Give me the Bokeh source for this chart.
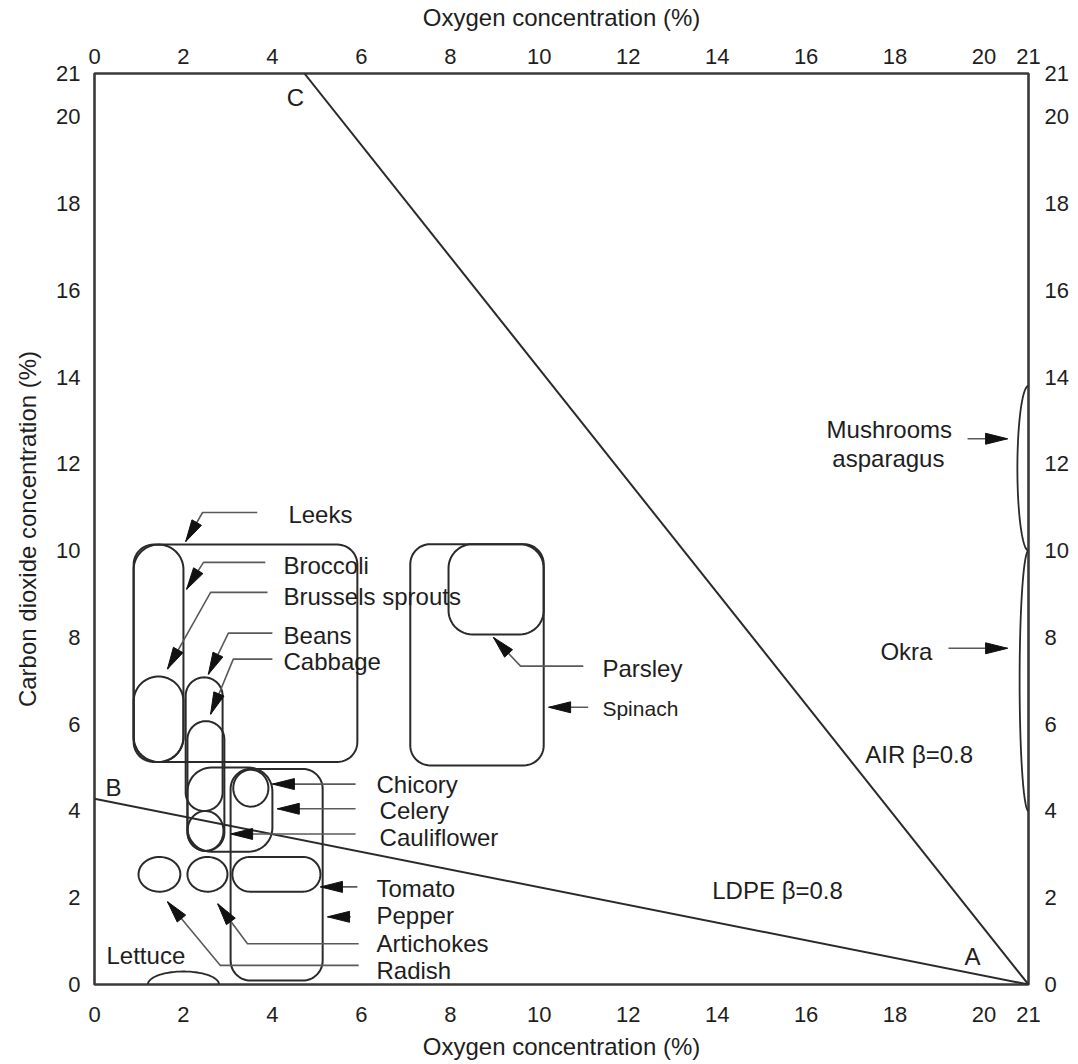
import numpy as np
from bokeh.plotting import figure
from bokeh.models import Range1d, LinearAxis, FixedTicker
from bokeh.embed import file_html
from bokeh.resources import INLINE
from bokeh.core.properties import value

# ---------------- data ----------------
o2_ticks = [0, 2, 4, 6, 8, 10, 12, 14, 16, 18, 20, 21]
co2_ticks = [0, 2, 4, 6, 8, 10, 12, 14, 16, 18, 20, 21]

# recommended atmosphere zones (O2 %, CO2 %)
zone_names = ["Leeks", "Broccoli", "Brussels sprouts", "Beans", "Cabbage",
              "Cauliflower", "Celery", "Chicory", "Pepper", "Tomato",
              "Radish", "Artichokes", "Spinach", "Parsley"]
zone_o2_lo = [0.88, 0.88, 0.88, 2.05, 2.09, 2.09, 2.09, 3.12, 3.06, 3.10, 0.99, 2.09, 7.10, 7.96]
zone_o2_hi = [5.91, 2.00, 2.00, 2.88, 2.92, 2.90, 4.00, 3.91, 5.13, 5.08, 1.93, 2.99, 10.10, 10.10]
zone_co2_lo = [5.13, 5.13, 5.13, 4.00, 3.08, 3.08, 3.06, 4.10, 0.09, 2.14, 2.14, 2.14, 5.05, 8.07]
zone_co2_hi = [10.14, 10.14, 7.10, 7.08, 6.07, 4.00, 5.00, 4.95, 4.97, 2.94, 2.94, 2.94, 10.15, 10.15]
zone_shape = ["box", "stadium", "stadium", "stadium", "stadium", "ellipse", "box",
              "ellipse", "box", "stadium", "ellipse", "ellipse", "box", "box"]

# zones sitting on the chart edge (half shapes)
edge_names = ["Lettuce", "Mushrooms asparagus", "Okra"]
edge_side = ["bottom", "right", "right"]
edge_lo = [1.2, 10.0, 4.0]
edge_hi = [2.8, 13.8, 10.0]
edge_depth = [0.30, 0.25, 0.20]

# package lines
ldpe_o2 = [0.0, 21.0]
ldpe_co2 = [4.28, 0.0]
air_o2 = [4.72, 21.0]
air_co2 = [21.0, 0.0]

# annotation texts
label_text = ["Leeks", "Broccoli", "Brussels sprouts", "Beans", "Cabbage", "Parsley",
              "Spinach", "Chicory", "Celery", "Cauliflower", "Tomato", "Pepper",
              "Artichokes", "Radish", "Lettuce", "Mushrooms", "asparagus", "Okra",
              "AIR β=0.8", "LDPE β=0.8", "A", "B", "C"]
label_x = [4.36, 4.25, 4.25, 4.25, 4.25, 11.42, 11.42, 6.34, 6.41, 6.41, 6.34, 6.34,
           6.34, 6.34, 0.27, 17.87, 17.85, 17.67, 17.33, 13.89, 19.74, 0.43, 4.52]
label_y = [10.83, 9.66, 8.95, 8.05, 7.45, 7.29, 6.37, 4.62, 4.02, 3.38, 2.21, 1.59,
           0.94, 0.32, 0.67, 12.79, 12.12, 7.68, 5.31, 2.16, 0.64, 4.55, 20.45]
label_align = ["left"] * 15 + ["center", "center"] + ["left"] * 3 + ["center"] * 3
label_size = ["24px"] * 6 + ["21px"] + ["24px"] * 16

# leader lines with arrows (last point is the arrow tip)
leader_x = [[3.66, 2.43, 2.05], [3.84, 2.45, 2.07], [3.89, 2.61, 1.64], [4.0, 3.01, 2.56],
            [4.0, 3.12, 2.61], [10.99, 9.58, 8.97], [11.1, 10.21], [5.87, 4.0],
            [5.87, 4.11], [5.87, 3.06], [5.91, 5.08], [5.76, 5.24],
            [5.94, 3.44, 2.77], [5.94, 2.83, 1.64], [19.63, 20.53], [19.2, 20.53]]
leader_y = [[10.88, 10.88, 10.21], [9.73, 9.73, 9.11], [9.04, 9.04, 7.27], [8.1, 8.1, 7.15],
            [7.5, 7.5, 6.23], [7.34, 7.34, 8.0], [6.39, 6.39], [4.62, 4.62],
            [4.05, 4.05], [3.47, 3.47], [2.25, 2.25], [1.56, 1.56],
            [0.94, 0.94, 1.86], [0.44, 0.44, 1.91], [12.58, 12.58], [7.75, 7.75]]

# ---------------- layout / style ----------------
W, H = 1074, 1062
ML, MR, MT, MB = 94, 46, 73, 76
PX_X = (W - ML - MR) / 21.0
PX_Y = (H - MT - MB) / 21.0
FONT = "Liberation Sans"
INK = "#2a2a2a"

p = figure(width=W, height=H, x_range=Range1d(0, 21), y_range=Range1d(0, 21),
           output_backend="svg", toolbar_location=None,
           min_border_left=ML, min_border_right=MR, min_border_top=MT, min_border_bottom=MB,
           x_axis_label="Oxygen concentration (%)",
           y_axis_label="Carbon dioxide concentration (%)")
p.xgrid.visible = False
p.ygrid.visible = False
p.outline_line_color = "#3a3a3a"
p.outline_line_width = 2.6
p.background_fill_color = "white"
p.border_fill_color = "white"

bottom_axis = p.below[0]
left_axis = p.left[0]
top_axis = LinearAxis(axis_label="Oxygen concentration (%)")
right_axis = LinearAxis()
p.add_layout(top_axis, "above")
p.add_layout(right_axis, "right")


def style_axis(ax, ticks, standoff, lab_standoff):
    ax.ticker = FixedTicker(ticks=ticks)
    ax.axis_line_color = None
    ax.major_tick_line_color = None
    ax.minor_tick_line_color = None
    ax.major_tick_out = 0
    ax.major_tick_in = 0
    ax.major_label_standoff = standoff
    ax.major_label_text_font = FONT
    ax.major_label_text_font_size = "22px"
    ax.major_label_text_color = "#1e1e1e"
    ax.axis_label_text_font = FONT
    ax.axis_label_text_font_size = "24px"
    ax.axis_label_text_font_style = "normal"
    ax.axis_label_text_color = "#1e1e1e"
    ax.axis_label_standoff = lab_standoff


style_axis(bottom_axis, o2_ticks, 22, 8)
style_axis(top_axis, o2_ticks, 10, 15)
style_axis(left_axis, co2_ticks, 14, 12)
style_axis(right_axis, co2_ticks, 16, 0)


def rounded_rect(x0, x1, y0, y1, r_px, n=14):
    rx = min(r_px / PX_X, (x1 - x0) / 2)
    ry = min(r_px / PX_Y, (y1 - y0) / 2)
    xs, ys = [], []
    corners = [(x1 - rx, y1 - ry, 0.0), (x0 + rx, y1 - ry, 0.5 * np.pi),
               (x0 + rx, y0 + ry, np.pi), (x1 - rx, y0 + ry, 1.5 * np.pi)]
    for cx, cy, a0 in corners:
        t = np.linspace(a0, a0 + 0.5 * np.pi, n)
        xs.extend(cx + rx * np.cos(t))
        ys.extend(cy + ry * np.sin(t))
    return xs, ys


zx, zy = [], []
for lo_x, hi_x, lo_y, hi_y, kind in zip(zone_o2_lo, zone_o2_hi, zone_co2_lo, zone_co2_hi, zone_shape):
    w_px = (hi_x - lo_x) * PX_X
    h_px = (hi_y - lo_y) * PX_Y
    if kind == "ellipse":
        t = np.linspace(0, 2 * np.pi, 80)
        xs = list((lo_x + hi_x) / 2 + (hi_x - lo_x) / 2 * np.cos(t))
        ys = list((lo_y + hi_y) / 2 + (hi_y - lo_y) / 2 * np.sin(t))
    elif kind == "stadium":
        xs, ys = rounded_rect(lo_x, hi_x, lo_y, hi_y, min(w_px, h_px) / 2, n=24)
    else:
        r = 24 if (hi_y - lo_y) < 3 and (hi_x - lo_x) < 3 else 20
        xs, ys = rounded_rect(lo_x, hi_x, lo_y, hi_y, r)
    zx.append(xs)
    zy.append(ys)
p.patches(zx, zy, fill_color=None, line_color=INK, line_width=2.0)

# half shapes on the chart edges
ex, ey = [], []
for side, lo, hi, d in zip(edge_side, edge_lo, edge_hi, edge_depth):
    t = np.linspace(0, np.pi, 60)
    c = (lo + hi) / 2
    half = (hi - lo) / 2
    if side == "bottom":
        ex.append(list(c + half * np.cos(t)))
        ey.append(list(d * np.sin(t)))
    else:
        ex.append(list(21.0 - d * np.sin(t)))
        ey.append(list(c + half * np.cos(t)))
p.multi_line(ex, ey, line_color=INK, line_width=1.8)

# package lines
p.line(ldpe_o2, ldpe_co2, line_color=INK, line_width=2.0)
p.line(air_o2, air_co2, line_color=INK, line_width=2.0)

# leader lines
p.multi_line(leader_x, leader_y, line_color="#5a5a5a", line_width=1.6)

# arrow heads
HL, HW = 22.0, 11.0
hx, hy = [], []
for lx, ly in zip(leader_x, leader_y):
    tx, ty = lx[-1] * PX_X, ly[-1] * PX_Y
    sx, sy = lx[-2] * PX_X, ly[-2] * PX_Y
    dx, dy = tx - sx, ty - sy
    L = np.hypot(dx, dy)
    ux, uy = dx / L, dy / L
    nx, ny = -uy, ux
    bx, by = tx - HL * ux, ty - HL * uy
    pts = [(tx, ty), (bx + nx * HW / 2, by + ny * HW / 2), (bx - nx * HW / 2, by - ny * HW / 2)]
    hx.append([q[0] / PX_X for q in pts])
    hy.append([q[1] / PX_Y for q in pts])
p.patches(hx, hy, fill_color="#111111", line_color="#111111", line_width=1)

# texts
p.text(x=label_x, y=label_y, text=label_text, text_align=label_align,
       text_baseline="middle", text_font=value(FONT), text_font_size=label_size,
       text_color="#1e1e1e")

open("out.html", "w").write(file_html(p, INLINE))
